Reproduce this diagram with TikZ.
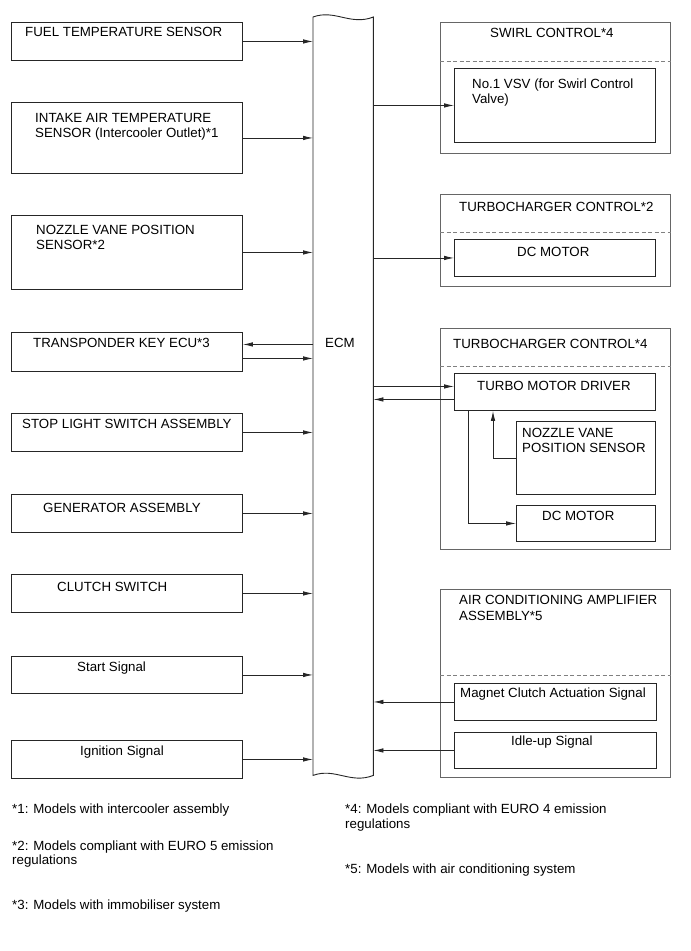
\documentclass[tikz,border=0pt]{standalone}
\usepackage{fontspec}
\setmainfont{Liberation Sans}
\usetikzlibrary{arrows.meta,calc}
\begin{document}
\begin{tikzpicture}[x=1pt,y=-1pt,
  box/.style={draw=black!85, line width=0.9pt, rectangle, inner sep=0pt, anchor=north west},
  outerbox/.style={draw=black!60, line width=0.9pt, rectangle, inner sep=0pt, anchor=north west},
  lbl/.style={anchor=base west, inner sep=0pt, font=\fontsize{13.3}{15}\selectfont},
  arr/.style={draw=black!85, line width=0.8pt, -{Latex[length=10pt,width=4.5pt]}},
  sepline/.style={draw=black!50, dash pattern=on 4pt off 2.5pt, line width=0.7pt}]
\useasboundingbox (0,0) rectangle (691,951);

% ECM
\node[minimum width=60pt, minimum height=758pt, inner sep=0pt, anchor=north west] (ecm) at (313,17) {};
\draw[line width=0.9pt, black!85] (ecm.north west) .. controls +(22,-8) and +(-23,9) .. (ecm.north east)
  -- (ecm.south east) .. controls +(-23,9) and +(22,-8) .. (ecm.south west) -- cycle;
\node[lbl] (tecm) at (325,347) {ECM};

% left boxes
\node[box, minimum width=231pt, minimum height=38pt] (fuel) at (11,22) {};
\node[box, minimum width=231pt, minimum height=71pt] (intake) at (11,102) {};
\node[box, minimum width=231pt, minimum height=74pt] (nozzle) at (11,215) {};
\node[box, minimum width=231pt, minimum height=39pt] (transp) at (11,332) {};
\node[box, minimum width=231pt, minimum height=38pt] (stop) at (11,413) {};
\node[box, minimum width=231pt, minimum height=38pt] (gen) at (11,494) {};
\node[box, minimum width=231pt, minimum height=38pt] (clutch) at (11,574) {};
\node[box, minimum width=231pt, minimum height=37pt] (start) at (11,656) {};
\node[box, minimum width=231pt, minimum height=38pt] (ign) at (11,740) {};

\node[lbl] (tfuel) at (25,36) {FUEL TEMPERATURE SENSOR};
\node[lbl] (tintakea) at (35,122) {INTAKE AIR TEMPERATURE};
\node[lbl] (tintakeb) at (35,137) {SENSOR (Intercooler Outlet)*1};
\node[lbl] (tnozzlea) at (36,234) {NOZZLE VANE POSITION};
\node[lbl] (tnozzleb) at (36,249) {SENSOR*2};
\node[lbl] (ttransp) at (33,347) {TRANSPONDER KEY ECU*3};
\node[lbl] (tstop) at (22,428) {STOP LIGHT SWITCH ASSEMBLY};
\node[lbl] (tgen) at (43,512) {GENERATOR ASSEMBLY};
\node[lbl] (tclutch) at (57,591) {CLUTCH SWITCH};
\node[lbl] (tstart) at (77,671) {Start Signal};
\node[lbl] (tign) at (80,755) {Ignition Signal};

% right boxes
\node[outerbox, minimum width=230pt, minimum height=131pt] (swirl) at (440,22) {};
\node[box, minimum width=201pt, minimum height=74pt] (vsv) at (454,68) {};
\node[outerbox, minimum width=230pt, minimum height=92pt] (tctwo) at (440,194) {};
\node[box, minimum width=201pt, minimum height=37pt] (dcmtwo) at (454,239) {};
\node[outerbox, minimum width=230pt, minimum height=221pt] (tcfour) at (440,328) {};
\node[box, minimum width=201pt, minimum height=37pt] (driver) at (454,373) {};
\node[box, minimum width=139pt, minimum height=73pt] (nvps) at (516,421) {};
\node[box, minimum width=139pt, minimum height=36pt] (dcmfour) at (516,505) {};
\node[outerbox, minimum width=230pt, minimum height=188pt] (ac) at (440,589) {};
\node[box, minimum width=202pt, minimum height=37pt] (magnet) at (454,683) {};
\node[box, minimum width=202pt, minimum height=36pt] (idle) at (454,732) {};

\draw[sepline] ($(swirl.north west)+(0,39)$) -- ($(swirl.north east)+(0,39)$);
\draw[sepline] ($(tctwo.north west)+(0,38)$) -- ($(tctwo.north east)+(0,38)$);
\draw[sepline] ($(tcfour.north west)+(0,38)$) -- ($(tcfour.north east)+(0,38)$);
\draw[sepline] ($(ac.north west)+(0,86)$) -- ($(ac.north east)+(0,86)$);

\node[lbl] (tswirl) at (490,37) {SWIRL CONTROL*4};
\node[lbl] (tvsva) at (472,88) {No.1 VSV (for Swirl Control};
\node[lbl] (tvsvb) at (472,103) {Valve)};
\node[lbl] (ttctwo) at (459,211) {TURBOCHARGER CONTROL*2};
\node[lbl] (tdcmtwo) at (517,256) {DC MOTOR};
\node[lbl] (ttcfour) at (453,348) {TURBOCHARGER CONTROL*4};
\node[lbl] (tdriver) at (477,390) {TURBO MOTOR DRIVER};
\node[lbl] (tnvpsa) at (522,437) {NOZZLE VANE};
\node[lbl] (tnvpsb) at (522,452) {POSITION SENSOR};
\node[lbl] (tdcmfour) at (542,520) {DC MOTOR};
\node[lbl] (taca) at (459,604) {AIR CONDITIONING AMPLIFIER};
\node[lbl] (tacb) at (459,620) {ASSEMBLY*5};
\node[lbl] (tmagnet) at (460,697) {Magnet Clutch Actuation Signal};
\node[lbl] (tidle) at (511,745) {Idle-up Signal};

% footnotes
\node[lbl] (fa) at (12,813) {*1: Models with intercooler assembly};
\node[lbl] (fba) at (12,850) {*2: Models compliant with EURO 5 emission};
\node[lbl] (fbb) at (12,864) {regulations};
\node[lbl] (fc) at (12,909) {*3: Models with immobiliser system};
\node[lbl] (fda) at (345,813) {*4: Models compliant with EURO 4 emission};
\node[lbl] (fdb) at (345,828) {regulations};
\node[lbl] (fe) at (345,873) {*5: Models with air conditioning system};

% connectors left
\draw[arr] (fuel.east) -- (fuel.east -| ecm.west);
\draw[arr] (intake.east) -- (intake.east -| ecm.west);
\draw[arr] (nozzle.east) -- (nozzle.east -| ecm.west);
\coordinate (tin) at ([yshift=7.5pt]transp.east);
\coordinate (tout) at ([yshift=-6.5pt]transp.east);
\draw[arr] (tin -| ecm.west) -- (tin);
\draw[arr] (tout) -- (tout -| ecm.west);
\draw[arr] (stop.east) -- (stop.east -| ecm.west);
\draw[arr] (gen.east) -- (gen.east -| ecm.west);
\draw[arr] (clutch.east) -- (clutch.east -| ecm.west);
\draw[arr] (start.east) -- (start.east -| ecm.west);
\draw[arr] (ign.east) -- (ign.east -| ecm.west);

% connectors right
\draw[arr] (vsv.west -| ecm.east) -- (vsv.west);
\draw[arr] (dcmtwo.west -| ecm.east) -- (dcmtwo.west);
\coordinate (din) at ([yshift=5.5pt]driver.west);
\coordinate (dout) at ([yshift=-7.5pt]driver.west);
\draw[arr] (din -| ecm.east) -- (din);
\draw[arr] (dout) -- (dout -| ecm.east);
\draw[arr] (nvps.west) -| ($(driver.south west)+(39,0)$);
\draw[arr] ($(driver.south west)+(14,0)$) |- (dcmfour.west);
\draw[arr] (magnet.west) -- (magnet.west -| ecm.east);
\draw[arr] (idle.west) -- (idle.west -| ecm.east);
\end{tikzpicture}
\end{document}
